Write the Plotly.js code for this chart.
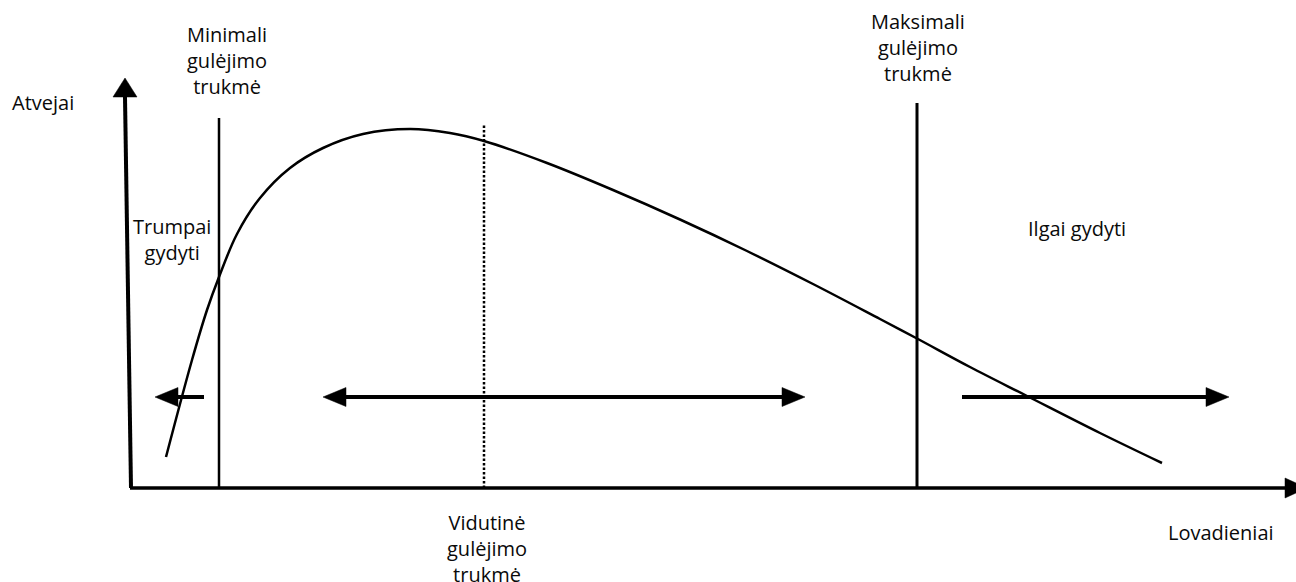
<!DOCTYPE html>
<html>
<head>
<meta charset="utf-8">
<script src="https://cdn.plot.ly/plotly-3.0.1.min.js"></script>
<style>
  html, body { margin: 0; padding: 0; background: #ffffff; }
  #chart { width: 1296px; height: 582px; }
</style>
</head>
<body>
<div id="chart"></div>
<script>
// Schematic distribution of length-of-stay (Lovadieniai) vs cases (Atvejai)
// Units: x = length of stay (schematic), y = number of cases (schematic)
const curveX = [36, 62, 77, 89, 107, 130, 160, 193, 233, 280, 320, 354, 417, 483, 550, 617, 683, 750, 787, 840, 897, 970, 1032];
const curveY = [31, 128, 178, 211, 254, 290, 320, 340, 354, 359, 355, 347, 325, 298, 268.5, 237, 204, 169, 149.5, 121, 92, 55, 25];

// reference lines: minimal, average (dotted), maximal length of stay
const minStayX = 89, minStayTop = 370;
const avgStayX = 354, avgStayTop = 363;
const maxStayX = 787, maxStayTop = 385;

// range arrows (short / normal / long treatment)
const arrowY    = [91, 91, 91];
const arrowFrom = [74, 193, 832];
const arrowTo   = [25, 675, 1099];
const arrowBoth = [false, true, false];

// axes extents
const xAxisEnd = 1177;
const yAxisBottomX = 1, yAxisTopX = -5, yAxisEnd = 410;

// text labels
const labelText = ['Atvejai', 'Minimali<br>gulėjimo<br>trukmė', 'Maksimali<br>gulėjimo<br>trukmė',
                   'Trumpai<br>gydyti', 'Ilgai gydyti', 'Vidutinė<br>gulėjimo<br>trukmė', 'Lovadieniai'];
const labelX = [-87, 97, 788, 42, 947, 357, 1091];
const labelY = [386, 428, 441, 249, 260, -60, -44];

const INK = '#000000';
const HEAD_L = 23, HEAD_H = 9.5;

function head(tx, ty, dir, L, H) {
  const bx = tx - dir * L;
  return {type: 'path', xref: 'x', yref: 'y',
    path: `M${tx},${ty} L${bx},${ty + H} L${bx},${ty - H} Z`,
    fillcolor: INK, line: {color: INK, width: 0.5}};
}
function vhead(tx, ty, L, H) {
  const by = ty - L;
  return {type: 'path', xref: 'x', yref: 'y',
    path: `M${tx},${ty} L${tx - H},${by} L${tx + H},${by} Z`,
    fillcolor: INK, line: {color: INK, width: 0.5}};
}

const shapes = [];
// x axis
shapes.push({type: 'line', xref: 'x', yref: 'y', x0: 0, y0: 0, x1: xAxisEnd - 22, y1: 0, line: {color: INK, width: 3.5}});
shapes.push(head(xAxisEnd, 0, 1, 22, 10));
// y axis (slightly slanted)
shapes.push({type: 'line', xref: 'x', yref: 'y', x0: yAxisBottomX, y0: 0, x1: yAxisTopX, y1: yAxisEnd - 19, line: {color: INK, width: 4}});
shapes.push(vhead(yAxisTopX, yAxisEnd, 19, 12));
// vertical reference lines
shapes.push({type: 'line', xref: 'x', yref: 'y', x0: minStayX, y0: 0, x1: minStayX, y1: minStayTop, line: {color: INK, width: 2.5}});
shapes.push({type: 'line', xref: 'x', yref: 'y', x0: maxStayX, y0: 0, x1: maxStayX, y1: maxStayTop, line: {color: INK, width: 3}});
shapes.push({type: 'line', xref: 'x', yref: 'y', x0: avgStayX, y0: 0, x1: avgStayX, y1: avgStayTop, line: {color: INK, width: 2.5, dash: '2.5px,2px'}});
// arrows
for (let i = 0; i < arrowY.length; i++) {
  const dir = arrowTo[i] > arrowFrom[i] ? 1 : -1;
  const endShaft = arrowTo[i] - dir * HEAD_L;
  const startShaft = arrowBoth[i] ? arrowFrom[i] + dir * HEAD_L : arrowFrom[i];
  shapes.push({type: 'line', xref: 'x', yref: 'y', x0: startShaft, y0: arrowY[i], x1: endShaft, y1: arrowY[i], line: {color: INK, width: 4}});
  shapes.push(head(arrowTo[i], arrowY[i], dir, HEAD_L, HEAD_H));
  if (arrowBoth[i]) shapes.push(head(arrowFrom[i], arrowY[i], -dir, HEAD_L, HEAD_H));
}

const annotations = labelText.map((t, i) => ({
  text: t, x: labelX[i], y: labelY[i], xref: 'x', yref: 'y',
  showarrow: false, xanchor: 'center', yanchor: 'middle', align: 'center',
  font: {family: 'Open Sans, sans-serif', size: 20, color: '#0a0a0a'}
}));

const data = [{
  type: 'scatter', mode: 'lines', x: curveX, y: curveY,
  line: {color: INK, width: 2.5, shape: 'spline', smoothing: 1},
  hoverinfo: 'skip', showlegend: false
}];

const layout = {
  width: 1296, height: 582,
  margin: {l: 0, r: 0, t: 0, b: 0, pad: 0},
  paper_bgcolor: '#ffffff', plot_bgcolor: '#ffffff',
  xaxis: {range: [-130, 1166], visible: false, fixedrange: true},
  yaxis: {range: [-94, 488], visible: false, fixedrange: true},
  shapes: shapes,
  annotations: annotations,
  showlegend: false
};

Plotly.newPlot('chart', data, layout, {displayModeBar: false, staticPlot: true});
</script>
</body>
</html>
